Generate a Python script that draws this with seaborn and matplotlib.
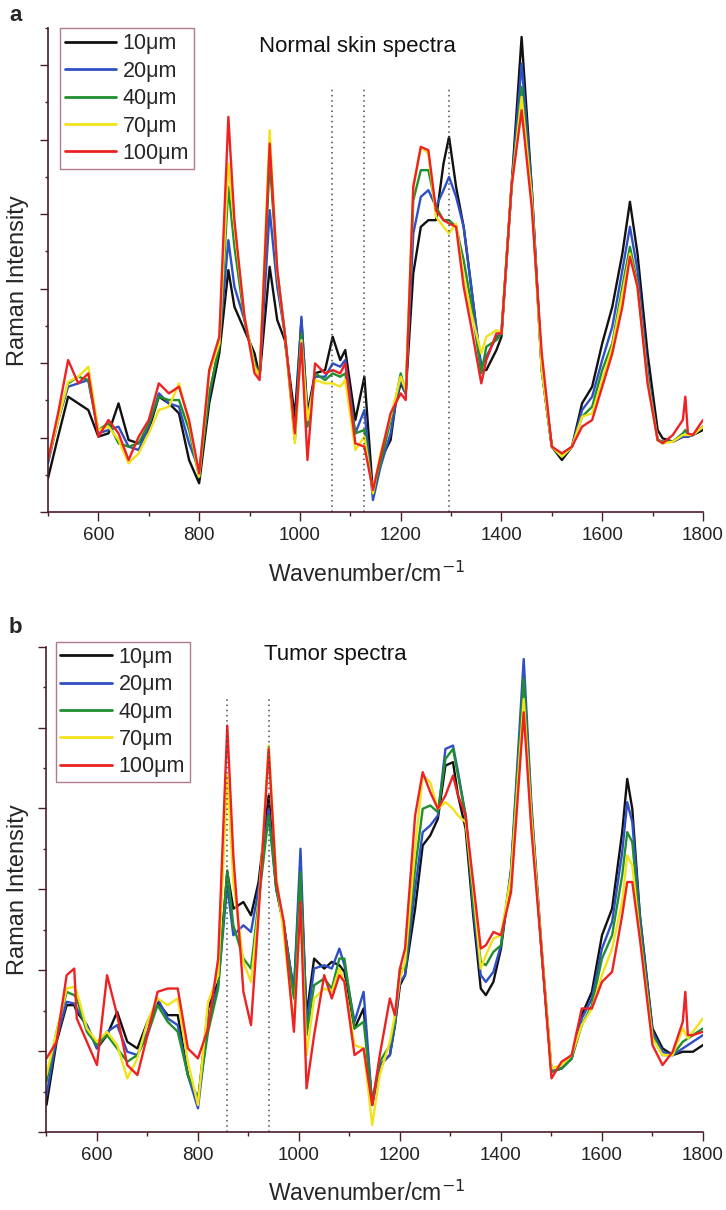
import matplotlib
matplotlib.use("Agg")
import matplotlib.pyplot as plt
from matplotlib.ticker import MultipleLocator
import seaborn as sns

# ---------------- data ----------------
depths = ["10μm", "20μm", "40μm", "70μm", "100μm"]
colors = ["#111111", "#2f4fc4", "#1f8f2f", "#f2e21a", "#ee2222"]

# Panel a: normal skin spectra
wn_a = [500, 520, 540, 560, 580, 600, 620, 640, 660, 680, 700, 720, 740, 760, 780, 800,
        820, 840, 858, 870, 890, 910, 920, 940, 955, 970, 990, 1003, 1015, 1030, 1050,
        1065, 1080, 1090, 1110, 1128, 1145, 1160, 1180, 1190, 1200, 1210, 1225, 1240,
        1255, 1270, 1285, 1296, 1310, 1325, 1340, 1360, 1370, 1390, 1400, 1420, 1440,
        1460, 1480, 1500, 1520, 1540, 1560, 1580, 1600, 1620, 1640, 1655, 1670, 1690,
        1710, 1720, 1740, 1760, 1765, 1770, 1780, 1800]
normal_10 = [101, 226, 346, 326, 306, 226, 236, 326, 216, 206, 246, 346, 326, 296, 156, 86,
             326, 476, 726, 616, 546, 476, 406, 736, 576, 516, 286, 576, 296, 416, 426,
             526, 456, 486, 276, 406, 56, 156, 216, 326, 386, 356, 716, 856,
             876, 876, 1046, 1126, 976, 856, 676, 426, 426, 486, 526, 976, 1426,
             976, 426, 196, 156, 196, 326, 376, 506, 616, 776, 931, 776, 476,
             246, 221, 211, 226, 226, 226, 231, 246]
normal_20 = [146, 276, 376, 386, 396, 236, 246, 256, 196, 186, 256, 356, 326, 316, 206, 126,
             346, 506, 816, 676, 576, 446, 406, 906, 676, 536, 226, 586, 276, 406, 406,
             446, 436, 456, 236, 306, 36, 136, 236, 326, 396, 356, 836, 946,
             966, 916, 966, 1006, 946, 856, 676, 436, 466, 526, 536, 976, 1346,
             976, 426, 196, 166, 196, 306, 346, 456, 556, 726, 856, 726, 426,
             216, 211, 211, 226, 226, 226, 231, 256]
normal_40 = [156, 276, 386, 406, 396, 246, 266, 206, 196, 206, 266, 346, 336, 336, 246, 106,
             356, 496, 976, 796, 576, 446, 406, 1056, 726, 536, 216, 536, 256, 416, 396,
             416, 406, 416, 236, 246, 56, 146, 276, 336, 416, 356, 936, 1026,
             1026, 916, 876, 876, 856, 756, 626, 416, 496, 516, 536, 976, 1276,
             956, 426, 196, 166, 196, 286, 316, 426, 506, 676, 796, 686, 406,
             216, 211, 211, 236, 246, 231, 231, 256]
normal_70 = [156, 276, 391, 406, 436, 246, 256, 216, 146, 176, 236, 306, 316, 386, 266, 106,
             416, 506, 1046, 856, 586, 436, 406, 1146, 716, 536, 206, 516, 276, 396, 386,
             386, 376, 396, 186, 226, 56, 176, 286, 346, 406, 366, 976, 1096,
             1076, 886, 856, 836, 866, 706, 596, 476, 526, 546, 536, 976, 1246,
             946, 426, 196, 166, 196, 286, 296, 396, 496, 656, 776, 676, 396,
             216, 206, 211, 231, 231, 231, 231, 256]
normal_100 = [156, 296, 456, 386, 416, 226, 276, 236, 156, 226, 276, 386, 356, 376, 276, 116,
              426, 526, 1186, 876, 586, 416, 396, 1106, 726, 536, 236, 506, 156, 446, 416,
              426, 416, 446, 206, 196, 66, 166, 296, 326, 356, 336, 976, 1096,
              1086, 906, 876, 866, 856, 676, 556, 386, 456, 536, 536, 976, 1206,
              916, 476, 196, 176, 196, 256, 276, 376, 476, 616, 766, 676, 386,
              216, 206, 231, 276, 346, 236, 231, 276]

# Panel b: tumor spectra
wn_b = [500, 520, 540, 555, 560, 580, 600, 620, 640, 660, 680, 700, 720, 740, 760, 780,
        800, 820, 840, 858, 870, 890, 905, 920, 940, 955, 970, 990, 1003, 1015, 1030,
        1050, 1065, 1080, 1090, 1110, 1128, 1145, 1160, 1180, 1190, 1200, 1210, 1230,
        1245, 1260, 1275, 1290, 1305, 1315, 1330, 1345, 1360, 1370, 1385, 1400, 1420,
        1445, 1460, 1480, 1500, 1520, 1540, 1560, 1580, 1600, 1620, 1640, 1650, 1660,
        1675, 1700, 1720, 1740, 1760, 1765, 1770, 1780, 1800]
tumor_10 = [81, 271, 381, 381, 361, 321, 251, 291, 361, 271, 251, 331, 391, 351, 351, 171,
            91, 371, 451, 781, 671, 691, 651, 751, 1011, 731, 621, 421, 791, 351, 521,
            491, 511, 501, 481, 311, 371, 81, 201, 231, 321, 441, 471, 671,
            861, 891, 941, 1101, 1111, 1011, 911, 651, 431, 411, 451, 551, 781,
            1371, 971, 551, 181, 191, 221, 351, 421, 591, 671, 901, 1061, 971,
            651, 311, 251, 231, 241, 241, 241, 241, 261]
tumor_20 = [111, 281, 391, 386, 371, 321, 251, 301, 321, 241, 231, 301, 401, 341, 321, 171,
            71, 331, 441, 741, 591, 621, 601, 731, 971, 731, 621, 421, 851, 321, 491,
            501, 491, 551, 501, 331, 421, 81, 201, 231, 321, 451, 471, 731,
            901, 921, 951, 1151, 1161, 1081, 951, 671, 471, 451, 481, 561, 791,
            1421, 991, 561, 181, 191, 221, 341, 401, 551, 631, 841, 991, 931,
            651, 301, 241, 231, 251, 256, 261, 271, 291]
tumor_40 = [151, 301, 421, 411, 401, 301, 261, 291, 251, 211, 231, 291, 381, 331, 301, 171,
            101, 301, 431, 786, 621, 521, 491, 691, 951, 731, 621, 401, 781, 291, 441,
            461, 431, 521, 521, 311, 331, 91, 211, 261, 331, 491, 491, 791,
            971, 981, 961, 1121, 1151, 1071, 951, 691, 511, 501, 541, 561, 781,
            1361, 971, 551, 181, 191, 221, 321, 381, 521, 591, 771, 901, 871,
            621, 291, 231, 231, 271, 276, 281, 291, 311]
tumor_70 = [171, 301, 431, 436, 421, 311, 271, 301, 261, 161, 221, 331, 401, 381, 401, 211,
            81, 391, 471, 1071, 751, 511, 451, 671, 1161, 771, 591, 321, 681, 231, 401,
            431, 421, 491, 451, 261, 251, 21, 171, 271, 351, 461, 511, 851,
            1071, 1051, 971, 991, 971, 951, 931, 731, 491, 531, 581, 591, 771,
            1301, 951, 561, 191, 201, 231, 321, 371, 471, 551, 691, 831, 801,
            591, 281, 231, 231, 311, 296, 281, 301, 341]
tumor_100 = [221, 271, 471, 491, 341, 271, 201, 471, 351, 201, 171, 291, 421, 431, 431, 251,
             221, 311, 521, 1221, 831, 421, 321, 651, 1151, 751, 631, 301, 691, 131, 291,
             471, 401, 471, 451, 231, 251, 81, 231, 401, 351, 491, 551, 951,
             1081, 1021, 971, 1011, 1071, 1011, 951, 751, 551, 561, 601, 591, 721,
             1261, 911, 551, 161, 211, 231, 371, 371, 451, 481, 651, 751, 751,
             581, 261, 201, 241, 331, 421, 291, 291, 301]

marked_a = [1063, 1128, 1296]
marked_b = [858, 940]
xticks = [600, 800, 1000, 1200, 1400, 1600, 1800]

# ---------------- style ----------------
sns.set_style("white")
plt.rcParams["font.family"] = ["Liberation Sans", "DejaVu Sans"]
AXC = "#4a1c26"

fig = plt.figure(figsize=(7.26, 12.10), dpi=100)
ax_a = fig.add_axes([0.0661, 0.5769, 0.9022, 0.4000])
ax_b = fig.add_axes([0.0640, 0.0645, 0.9043, 0.4010])

panels = [
    (ax_a, wn_a, [normal_10, normal_20, normal_40, normal_70, normal_100], marked_a,
     1278, 1453, 223.5, "Normal skin spectra", (0.473, 0.961), (0.018, 0.999)),
    (ax_b, wn_b, [tumor_10, tumor_20, tumor_40, tumor_70, tumor_100], marked_b,
     1306, 1458, 243.0, "Tumor spectra", (0.44, 0.983), (0.014, 1.010)),
]

for ax, wn, series, marks, mark_top, ytop, ystep, title, tpos, lpos in panels:
    for lab, col, ys in zip(depths, colors, series):
        sns.lineplot(x=wn, y=ys, ax=ax, color=col, lw=1.7, label=lab, errorbar=None)
    ax.vlines(marks, 0, mark_top, colors="#4a4a4a", linestyles=(0, (1, 2.4)), lw=1.1)
    ax.set_xlim(500, 1800)
    ax.set_ylim(0, ytop)
    ax.xaxis.set_major_locator(plt.FixedLocator(xticks))
    ax.xaxis.set_minor_locator(MultipleLocator(100))
    ax.yaxis.set_major_locator(MultipleLocator(ystep))
    ax.yaxis.set_minor_locator(MultipleLocator(ystep / 2))
    ax.set_yticklabels([])
    ax.tick_params(axis="x", which="major", direction="out", length=6.5, width=1.0,
                   color=AXC, labelsize=13.5, pad=4.5, bottom=True, labelcolor="#222222")
    ax.tick_params(axis="x", which="minor", direction="out", length=3, width=1.0,
                   color=AXC, bottom=True)
    ax.tick_params(axis="y", which="major", direction="out", length=6, width=1.0,
                   color=AXC, left=True)
    ax.tick_params(axis="y", which="minor", direction="out", length=2.5, width=1.0,
                   color=AXC, left=True)
    for s in ["top", "right"]:
        ax.spines[s].set_visible(False)
    for s in ["left", "bottom"]:
        ax.spines[s].set_color(AXC)
        ax.spines[s].set_linewidth(1.2)
    ax.set_xlabel("")
    ax.set_ylabel("")
    ax.text(tpos[0], tpos[1], title, transform=ax.transAxes, ha="center", va="center",
            fontsize=16, color="#111111")
    leg = ax.legend(loc="upper left", bbox_to_anchor=lpos, fontsize=15.5, frameon=True,
                    fancybox=False, framealpha=1, edgecolor="#b07a86", handlelength=2.4,
                    handletextpad=0.3, labelspacing=0.3, borderpad=0.22,
                    borderaxespad=0.0)
    leg.get_frame().set_linewidth(1.0)
    for h in leg.get_lines():
        h.set_linewidth(2.0)

# axis titles and panel letters
fig.text(0.505, 0.525, "Wavenumber/cm$^{-1}$", ha="center", va="center", fontsize=16.5)
fig.text(0.505, 0.0135, "Wavenumber/cm$^{-1}$", ha="center", va="center", fontsize=16.5)
fig.text(0.025, 0.768, "Raman Intensity", rotation=90, ha="center", va="center", fontsize=17)
fig.text(0.025, 0.265, "Raman Intensity", rotation=90, ha="center", va="center", fontsize=17)
fig.text(0.022, 0.9876, "a", ha="center", va="center", fontsize=16, fontweight="bold")
fig.text(0.021, 0.481, "b", ha="center", va="center", fontsize=16, fontweight="bold")

fig.savefig("out.png", dpi=100)
